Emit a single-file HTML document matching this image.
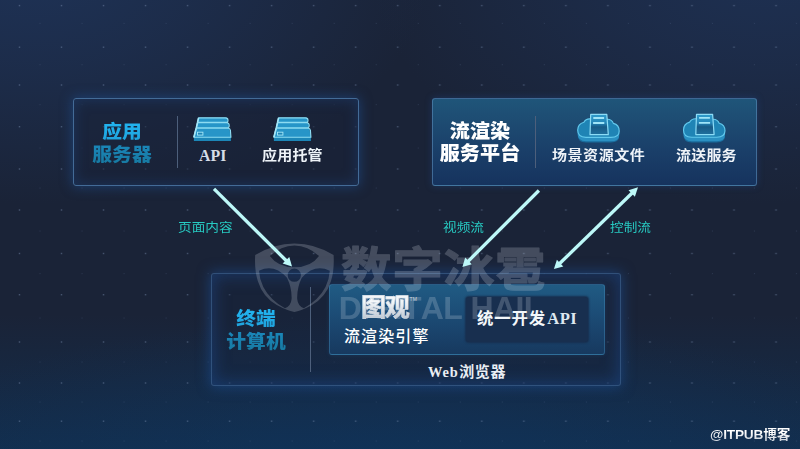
<!DOCTYPE html>
<html lang="zh-CN">
<head>
<meta charset="utf-8">
<title>流渲染架构</title>
<style>
html,body{margin:0;padding:0;}
body{width:800px;height:449px;overflow:hidden;position:relative;
  font-family:"Liberation Sans","Noto Sans CJK SC",sans-serif;
  background:#1a2337;}
#bg{position:absolute;left:0;top:0;width:800px;height:449px;
  background:
   radial-gradient(ellipse 400px 240px at 4% -8%, rgba(31,54,94,.8) 0%, rgba(31,54,94,.5) 42%, rgba(31,54,94,0) 100%),
   radial-gradient(ellipse 400px 240px at 96% -8%, rgba(31,53,92,.75) 0%, rgba(31,53,92,.46) 42%, rgba(31,53,92,0) 100%),
   radial-gradient(ellipse 560px 170px at 50% 108%, rgba(14,56,100,.55), rgba(14,56,100,0) 100%),
   linear-gradient(180deg, rgba(18,46,78,0) 70%, rgba(18,46,78,.95) 100%),
   #1a2337;}
.box{position:absolute;box-sizing:border-box;border:1px solid #436b97;border-radius:3px;
  box-shadow:0 0 12px 1px rgba(32,86,158,.5), inset 0 0 13px 1px rgba(32,78,145,.36);}
#b1{left:73px;top:98px;width:286px;height:88px;background:rgba(25,35,56,.55);}
#b2{left:432px;top:98px;width:325px;height:88px;
  background:linear-gradient(180deg,#1f5579 0%,#1d4a71 30%,#1a3f69 60%,#16335e 100%);border-color:rgba(90,140,185,.6);
  box-shadow:0 0 7px 0 rgba(35,80,150,.4);}
#b3{left:211px;top:272.5px;width:410px;height:113px;background:rgba(23,36,62,.35);border-color:rgba(62,102,152,.68);
  box-shadow:0 0 13px 1px rgba(30,82,155,.58), inset 0 0 16px 2px rgba(30,75,145,.5);}
#b4{position:absolute;left:329px;top:284px;width:276px;height:70.5px;box-sizing:border-box;
  border:1px solid rgba(70,140,185,.42);border-radius:3px;
  background:linear-gradient(180deg,#205b83 0%,#1c4c76 42%,#17395f 100%);
  box-shadow:0 0 4px rgba(40,120,190,.2);}
#b5{position:absolute;left:465.5px;top:296.5px;width:122px;height:45px;background:#182f4f;border-radius:3px;
  box-shadow:0 0 2px 1px #182f4f;}
.vline{position:absolute;width:1px;background:#4d5f7b;}
.t{position:absolute;white-space:nowrap;line-height:1;}
.head{font-weight:900;font-size:18.4px;line-height:22.6px;text-align:center;letter-spacing:0;transform:scale(1.075,1);transform-origin:50% 50%;}
.cy{background:linear-gradient(180deg,#22b6f2 0%,#1fa2dc 45%,#1a86b8 55%,#17789f 100%);
  -webkit-background-clip:text;background-clip:text;color:transparent;-webkit-text-fill-color:transparent;}
.wh{color:#fff;}
.lab{font-size:15px;color:#eef3f8;font-weight:700;letter-spacing:.2px;transform:scale(1,.9);transform-origin:0 50%;}
.serif{font-family:"Liberation Serif","Noto Serif CJK SC",serif;}
.flow{font-size:13.3px;color:#27cac2;transform:scale(1.025,.93);transform-origin:0 85%;}
svg{position:absolute;left:0;top:0;}
</style>
</head>
<body>
<div id="bg"></div>
<svg id="dots" width="800" height="449" viewBox="0 0 800 449">
  <defs>
    <pattern id="pd" x="-1.5" y="0" width="42.03" height="449" patternUnits="userSpaceOnUse">
      <g fill="#7388aa" opacity=".5">
        <rect x="20.3" y="4.9" width="1.4" height="1.4"/><rect x="20.3" y="46.5" width="1.4" height="1.4"/><rect x="20.3" y="84.3" width="1.4" height="1.4"/><rect x="20.3" y="126.0" width="1.4" height="1.4"/><rect x="20.3" y="168.3" width="1.4" height="1.4"/><rect x="20.3" y="209.3" width="1.4" height="1.4"/><rect x="20.3" y="252.8" width="1.4" height="1.4"/><rect x="20.3" y="294.0" width="1.4" height="1.4"/><rect x="20.3" y="341.3" width="1.4" height="1.4"/><rect x="20.3" y="382.3" width="1.4" height="1.4"/><rect x="20.3" y="420.5" width="1.4" height="1.4"/>
      </g>
      <g fill="#60769a" opacity=".22">
        <rect x="41" y="22.9" width="1.1" height="1.1"/><rect x="41" y="64.1" width="1.1" height="1.1"/><rect x="41" y="104.0" width="1.1" height="1.1"/><rect x="41" y="147.5" width="1.1" height="1.1"/><rect x="41" y="187.5" width="1.1" height="1.1"/><rect x="41" y="230.5" width="1.1" height="1.1"/><rect x="41" y="273.0" width="1.1" height="1.1"/><rect x="41" y="317.5" width="1.1" height="1.1"/><rect x="41" y="361.5" width="1.1" height="1.1"/><rect x="41" y="401.5" width="1.1" height="1.1"/><rect x="41" y="440.5" width="1.1" height="1.1"/>
      </g>
    </pattern>
  </defs>
  <rect width="800" height="449" fill="url(#pd)"/>
</svg>

<div class="box" id="b1"></div>
<div class="box" id="b2"></div>
<div class="box" id="b3"></div>
<div id="b4"></div>
<div id="b5"></div>

<div class="vline" style="left:177px;top:116px;height:52px;"></div>
<div class="vline" style="left:535px;top:116px;height:52px;"></div>
<div class="vline" style="left:310px;top:287px;height:85px;"></div>

<!-- watermark -->
<svg width="800" height="449" viewBox="0 0 800 449" style="opacity:.21">
  <path fill="#dfe5ee" fill-rule="evenodd" d="
    M255.2 255 Q274 243.4 294.4 243.4 Q315 243.4 333.6 255 Q334.5 270 331 281 Q326 297 312 305 Q302 310.5 294.4 312 Q287 310.5 276.8 305 Q262.8 297 257.8 281 Q254.3 270 255.2 255 Z
    M269.8 256 Q281 245.4 294.4 245.4 Q308 245.4 319 256 Q311 267.3 294.4 267.3 Q278 267.3 269.8 256 Z
    M287.7 275.2 A6.6 6.6 0 1 0 300.9 275.2 A6.6 6.6 0 1 0 287.7 275.2 Z
    M259 270.8 Q274 263.5 287 277.8 Q292 288 291.6 299 Q291 306 285 308.3 Q270 300 263.3 287 Q259.4 279 259 270.8 Z
    M329.8 270.8 Q314.8 263.5 301.8 277.8 Q296.8 288 297.2 299 Q297.8 306 303.8 308.3 Q318.8 300 325.5 287 Q329.4 279 329.8 270.8 Z"/>
  <text x="0" y="285.6" transform="translate(340.9,0) scale(1.075,1)" font-family="'Liberation Sans','Noto Sans CJK SC',sans-serif" font-weight="700" font-size="47" fill="#dfe5ee" stroke="#dfe5ee" stroke-width="1.1" stroke-linejoin="round" letter-spacing=".8">数字冰雹</text>
  <text x="0" y="319.4" transform="translate(338.7,0) scale(1.022,1)" style="font-kerning:none" font-family="'Liberation Sans',sans-serif" font-weight="700" font-size="31.3" fill="#dfe5ee" letter-spacing="-.6">DIGITAL HAIL</text>
</svg>

<!-- headings -->
<div class="t head cy" style="left:72px;top:121px;width:100px;">应用<br>服务器</div>
<div class="t head wh" style="left:430px;top:121.2px;width:100px;font-size:19.2px;line-height:21.4px;transform:scale(1.05,1)">流渲染<br>服务平台</div>
<div class="t head cy" style="left:206px;top:308px;width:100px;">终端<br>计算机</div>

<!-- labels -->
<div class="t lab serif" style="left:199px;top:147.7px;font-size:15.8px;letter-spacing:.1px;color:#d6dde7;transform:none">API</div>
<div class="t lab" style="left:262px;top:147.5px;">应用托管</div>
<div class="t lab" style="left:552px;top:148px;letter-spacing:.55px">场景资源文件</div>
<div class="t lab" style="left:676px;top:148px;">流送服务</div>

<div class="t flow" style="left:178px;top:221px;">页面内容</div>
<div class="t flow" style="left:443px;top:221px;">视频流</div>
<div class="t flow" style="left:610px;top:221px;">控制流</div>

<div class="t" style="left:361px;top:295px;font-size:25px;font-weight:700;letter-spacing:-1.2px;background:linear-gradient(180deg,#f4f7fa 25%,#bcc6d1 100%);-webkit-background-clip:text;background-clip:text;color:transparent;-webkit-text-fill-color:transparent;-webkit-text-stroke:.5px rgba(215,222,230,.9);">图观<span style="font-size:5px;vertical-align:top;font-weight:400;letter-spacing:0;position:relative;top:2px;left:1px;-webkit-text-fill-color:#cfd6de;-webkit-text-stroke:0">TM</span></div>
<div class="t wh" style="left:344px;top:328.6px;font-size:16px;letter-spacing:1.1px;font-weight:500;">流渲染引擎</div>
<div class="t" style="left:477px;top:309.6px;font-size:16.4px;letter-spacing:.9px;font-weight:700;color:#f3f7fa">统一开发<span class="serif" style="font-size:16.6px;letter-spacing:.35px;font-weight:700;color:#dde8f0;margin-left:1.2px">API</span></div>
<div class="t wh" style="left:428px;top:363.6px;font-size:15px;letter-spacing:.55px;font-weight:700;color:#e9eef4"><span class="serif" style="font-size:14.4px;font-weight:700;letter-spacing:.9px;margin-right:.6px">Web</span>浏览器</div>

<div class="t" style="left:710px;top:427.6px;font-size:13.7px;font-weight:700;letter-spacing:-.2px;background:linear-gradient(180deg,#fff 35%,#c9cfd8 100%);-webkit-background-clip:text;background-clip:text;color:transparent;-webkit-text-fill-color:transparent;">@ITPUB博客</div>

<!-- arrows + icons -->
<svg width="800" height="449" viewBox="0 0 800 449">
  <g stroke="#bdf8f8" stroke-width="3.3" stroke-linecap="butt" fill="#bdf8f8">
    <line x1="214" y1="188.9" x2="286.6" y2="261"/>
    <polygon points="292,266.4 282.6,263.6 289.3,257" stroke="none"/>
    <line x1="538.9" y1="190.5" x2="467.8" y2="261.6"/>
    <polygon points="462.4,267 465.2,257.6 471.8,264.2" stroke="none"/>
    <line x1="632.4" y1="192.8" x2="559.4" y2="263.8"/>
    <polygon points="638,187.2 628.5,190.2 634.9,196.8" stroke="none"/>
    <polygon points="553.9,269.1 556.9,259.8 563.3,266.4" stroke="none"/>
  </g>
  <defs>
    <g id="srv">
      <path d="M4.7 0.5 L33.1 0.5 L37 19.6 L37 23.7 L0 23.7 L0 19.6 Z" fill="#1c86b7"/>
      <path d="M4.7 0.5 L33.1 0.5 L37 19.9 L0 19.9 Z" fill="#2795c8"/>
      <path d="M4.7 0.6 L31.6 0.6 Q34 0.6 34.1 2.9 Q34.2 5.1 32.2 5.1 L3.6 5.1 Z M3.6 5.4 L32.8 5.4 Q35.2 5.4 35.3 8 Q35.4 10.6 33.4 10.6 L2.4 10.6 Z M2.3 10.9 L34.6 10.9 Q36.2 10.9 36.5 13 L37 19.9 L0 19.9 Z" fill="none" stroke="#8ddbf1" stroke-width="1.15" stroke-linejoin="round"/>
      <path d="M4.7 0.6 L3.6 5.1 M3.6 5.4 L2.4 10.6 M2.3 10.9 L0 19.9" stroke="#a5e6f7" stroke-width="1.6" fill="none"/>
      <rect x="3.6" y="14.9" width="5.4" height="2.9" fill="#2186b6" stroke="#a5e8f8" stroke-width=".9"/>
    </g>
    <g id="cld">
      <path d="M8.5 28.6 Q0.3 28.6 0.3 21.4 L0.3 16.2 L41.8 17 L41.8 22.2 Q41.8 28.6 33.5 28.6 Z" fill="#1a6c9c"/>
      <path d="M8.5 27.4 Q0.3 27.4 0.3 20.2 L0.3 16.2 L41.8 17 L41.8 21 Q41.8 27.4 33.5 27.4 Z" fill="#2a90c2"/>
      <path d="M8.5 23.4 Q0.3 23.4 0.3 16.2 Q0.3 10 6.5 8.3 Q8.5 4.6 13 5 L30 5.4 Q34.5 5.6 36 9.5 Q41.8 11 41.8 17 Q41.8 23.4 33.5 23.4 Z" fill="#1f84b5" stroke="#62c8ec" stroke-width="1.15"/>
      <path d="M13.3 0.5 L29.4 0.5 L30.9 20.8 L12.6 20.8 Z" fill="url(#twr)" stroke="#8cdcf6" stroke-width="1.2" stroke-linejoin="round"/>
      <path d="M15.9 4.1 L26.7 4.1 M15.7 9.1 L26.9 9.1" stroke="#9fe4f8" stroke-width="1.9" fill="none"/>
    </g>
    <linearGradient id="twr" x1="0" y1="0" x2="0" y2="1">
      <stop offset="0" stop-color="#2f9ccc"/><stop offset=".42" stop-color="#2486b8"/><stop offset=".62" stop-color="#185a86"/><stop offset="1" stop-color="#1f709e"/>
    </linearGradient>
  </defs>
  <use href="#srv" x="193.9" y="117.3"/>
  <use href="#srv" x="273.9" y="117.3"/>
  <use href="#cld" x="577.4" y="113.9"/>
  <use href="#cld" x="683.2" y="113.8"/>
</svg>
</body>
</html>
